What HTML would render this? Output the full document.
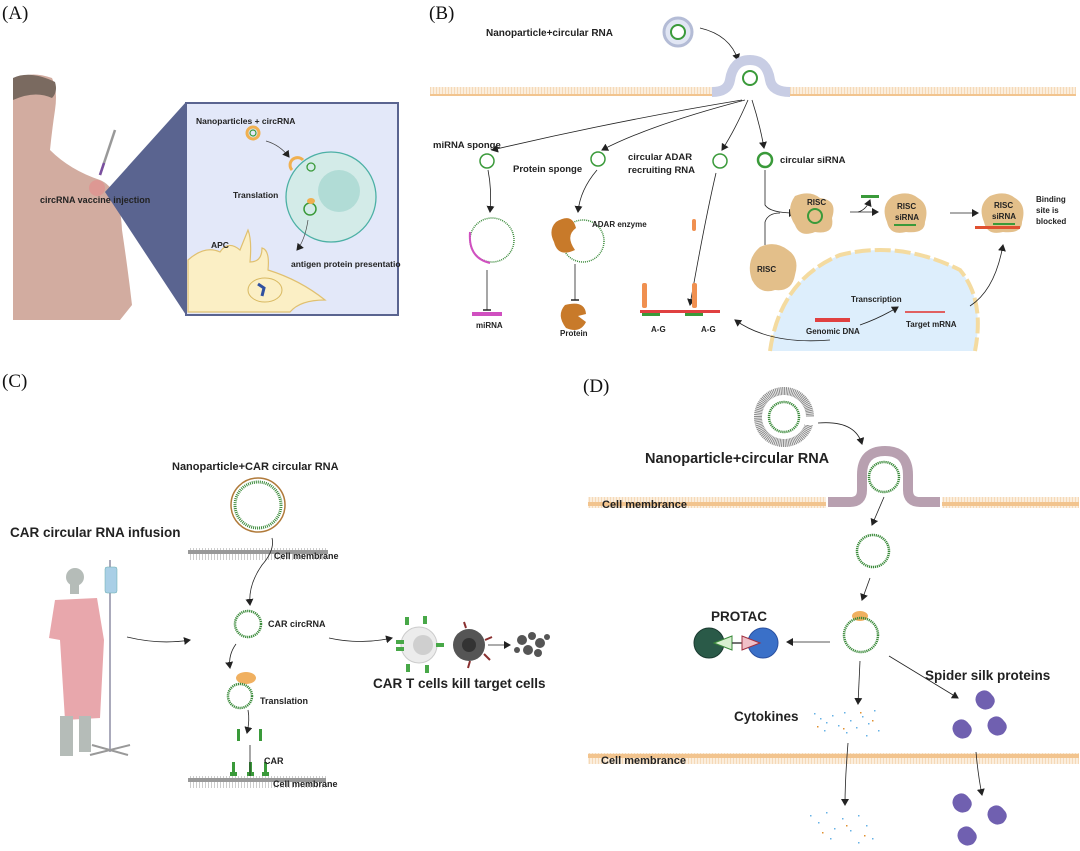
<!DOCTYPE html>
<html><head><meta charset="utf-8"><style>
html,body{margin:0;padding:0;background:#fff}
svg{display:block}
text{font-family:"Liberation Sans",sans-serif;font-weight:bold;fill:#222}
.ser{font-family:"Liberation Serif",serif;font-weight:normal;font-size:19px;fill:#111}
</style></head><body>
<svg width="1080" height="851" viewBox="0 0 1080 851" xmlns="http://www.w3.org/2000/svg">
<defs>
<marker id="ah" markerWidth="8" markerHeight="8" refX="6" refY="4" orient="auto" markerUnits="userSpaceOnUse"><path d="M0,0 L7,4 L0,8 z" fill="#222"/></marker>
<marker id="tb" markerWidth="8" markerHeight="8" refX="1" refY="4" orient="auto" markerUnits="userSpaceOnUse"><path d="M1,0 L1,8" stroke="#222" stroke-width="1.5"/></marker>
<pattern id="memO" width="3" height="12" patternUnits="userSpaceOnUse"><rect width="3" height="12" fill="#fbeedd"/><rect y="0" width="3" height="2" fill="#f2c48e"/><rect y="10" width="3" height="2" fill="#f2c48e"/><rect x="1" y="2" width="1" height="8" fill="#f5d9b8"/></pattern>
<pattern id="memG" width="3" height="12" patternUnits="userSpaceOnUse"><rect width="3" height="12" fill="#fff"/><rect width="3" height="2" fill="#999"/><rect y="10" width="3" height="2" fill="#999"/><rect x="1" y="2" width="1" height="8" fill="#ccc"/></pattern>
</defs>

<!-- ===== Panel A ===== -->
<text x="2" y="19" class="ser">(A)</text>
<path d="M13,80 Q30,70 52,78 Q58,90 55,110 Q52,130 50,150 Q70,170 100,180 Q120,188 122,230 Q128,270 132,305 L120,320 L13,320 Z" fill="#d2aca0"/>
<path d="M13,78 Q30,70 55,82 Q58,92 52,98 Q35,90 13,100 Z" fill="#7a6a60"/>
<circle cx="97" cy="188" r="8" fill="#e58a8a" opacity="0.6"/>
<line x1="100" y1="175" x2="115" y2="130" stroke="#999" stroke-width="2.5"/>
<line x1="100" y1="175" x2="104" y2="163" stroke="#7a4fa0" stroke-width="2.5"/>
<polygon points="105,192 186,102 186,315" fill="#5a6490"/>
<rect x="186" y="103" width="212" height="212" fill="#e3e8f9" stroke="#5a6490" stroke-width="2"/>
<text x="196" y="124" font-size="8.5">Nanoparticles + circRNA</text>
<circle cx="253" cy="133" r="6" fill="none" stroke="#f0b050" stroke-width="3"/>
<circle cx="253" cy="133" r="3" fill="none" stroke="#3a9a3a" stroke-width="1.2"/>
<path d="M266,141 Q280,145 289,157" fill="none" stroke="#444" stroke-width="0.7" marker-end="url(#ah)"/>
<circle cx="331" cy="197" r="45" fill="#d3ebe8" stroke="#4cb0a5" stroke-width="1.3"/>
<circle cx="339" cy="191" r="21" fill="#b1dcd6"/>
<path d="M292,170 A7,7 0 1 1 303,160" fill="none" stroke="#f0b050" stroke-width="3"/>
<circle cx="311" cy="167" r="4" fill="none" stroke="#3a9a3a" stroke-width="1.3"/>
<circle cx="310" cy="209" r="6" fill="none" stroke="#3a9a3a" stroke-width="1.5"/>
<ellipse cx="311" cy="201" rx="4" ry="3" fill="#f0b050"/>
<text x="233" y="198" font-size="8.5">Translation</text>
<path d="M308,220 Q305,240 297,250" fill="none" stroke="#444" stroke-width="0.7" marker-end="url(#ah)"/>
<path d="M188,260 Q205,245 220,252 Q228,240 240,250 L248,230 Q252,240 250,262 Q262,262 262,248 Q270,250 268,270 Q300,280 325,300 Q300,300 290,312 L188,312 Z" fill="#fbefc5" stroke="#e0c070" stroke-width="1.2"/>
<ellipse cx="265" cy="290" rx="17" ry="12" fill="none" stroke="#d8b860"/>
<path d="M258,284 L264,288 L262,296" stroke="#3050a0" stroke-width="3" fill="none"/>
<text x="211" y="248" font-size="8.5">APC</text>
<text x="291" y="267" font-size="8.5">antigen protein presentatio</text>
<text x="40" y="203" font-size="9">circRNA vaccine injection</text>

<!-- ===== Panel B ===== -->
<text x="429" y="19" class="ser">(B)</text>
<text x="486" y="36" font-size="10">Nanoparticle+circular RNA</text>
<circle cx="678" cy="32" r="14" fill="#e1e6f4" stroke="#b4bcd6" stroke-width="3"/>
<circle cx="678" cy="32" r="7" fill="#fff" stroke="#3a9a3a" stroke-width="2"/>
<path d="M700,28 Q730,35 738,60" fill="none" stroke="#222" stroke-width="0.8" marker-end="url(#ah)"/>
<rect x="430" y="87" width="282" height="9" fill="url(#memO)"/>
<rect x="790" y="87" width="286" height="9" fill="url(#memO)"/>
<path d="M712,92 Q728,92 730,80 Q733,60 750,60 Q767,60 770,80 Q772,92 790,92" fill="none" stroke="#c8cde4" stroke-width="10"/>
<circle cx="750" cy="78" r="7" fill="#fff" stroke="#3a9a3a" stroke-width="2"/>
<path d="M742,100 Q620,120 492,150" fill="none" stroke="#222" stroke-width="0.8" marker-end="url(#ah)"/>
<path d="M745,100 Q650,125 602,150" fill="none" stroke="#222" stroke-width="0.8" marker-end="url(#ah)"/>
<path d="M748,100 Q735,130 722,150" fill="none" stroke="#222" stroke-width="0.8" marker-end="url(#ah)"/>
<path d="M752,100 Q760,125 764,148" fill="none" stroke="#222" stroke-width="0.8" marker-end="url(#ah)"/>
<text x="433" y="148" font-size="9.5">miRNA sponge</text>
<circle cx="487" cy="161" r="7" fill="none" stroke="#3a9a3a" stroke-width="1.5"/>
<text x="513" y="172" font-size="9.5">Protein sponge</text>
<circle cx="598" cy="159" r="7" fill="none" stroke="#3a9a3a" stroke-width="1.5"/>
<text x="628" y="160" font-size="9.5">circular ADAR</text>
<text x="628" y="173" font-size="9.5">recruiting RNA</text>
<circle cx="720" cy="161" r="7" fill="none" stroke="#3a9a3a" stroke-width="1.5"/>
<circle cx="765" cy="160" r="7" fill="none" stroke="#3a9a3a" stroke-width="2.5"/>
<text x="780" y="163" font-size="9.5">circular siRNA</text>
<path d="M488,170 Q492,190 490,212" fill="none" stroke="#222" stroke-width="0.8" marker-end="url(#ah)"/>
<circle cx="492" cy="240" r="22" fill="none" stroke="#3a8a3a" stroke-width="1.5" stroke-dasharray="1 1"/>
<path d="M470,232 Q468,258 490,263" fill="none" stroke="#d050c0" stroke-width="2"/>
<line x1="487" y1="270" x2="487" y2="310" stroke="#222" stroke-width="0.8" marker-end="url(#tb)"/>
<rect x="472" y="312" width="30" height="4" fill="#d050c0"/>
<text x="476" y="328" font-size="8">miRNA</text>
<path d="M597,170 Q580,190 578,212" fill="none" stroke="#222" stroke-width="0.8" marker-end="url(#ah)"/>
<circle cx="583" cy="241" r="21" fill="none" stroke="#3a8a3a" stroke-width="1.5" stroke-dasharray="1 1"/>
<path d="M556,222 Q572,212 576,228 Q565,236 575,250 Q558,258 554,242 Q548,230 556,222 Z" fill="#c87a2a"/>
<line x1="575" y1="264" x2="575" y2="300" stroke="#222" stroke-width="0.8" marker-end="url(#tb)"/>
<path d="M565,305 Q585,300 586,314 L578,316 L586,322 Q580,334 566,328 Q556,315 565,305 Z" fill="#c87a2a"/>
<text x="560" y="336" font-size="8">Protein</text>
<text x="592" y="227" font-size="8">ADAR enzyme</text>
<rect x="692" y="219" width="4" height="12" rx="2" fill="#f09050"/>
<path d="M716,173 Q705,220 690,305" fill="none" stroke="#222" stroke-width="0.8" marker-end="url(#ah)"/>
<rect x="642" y="283" width="5" height="25" rx="2" fill="#f09050"/>
<rect x="692" y="283" width="5" height="25" rx="2" fill="#f09050"/>
<rect x="640" y="310" width="80" height="3" fill="#e04040"/>
<rect x="642" y="313" width="18" height="3" fill="#3a9a3a"/>
<rect x="685" y="313" width="18" height="3" fill="#3a9a3a"/>
<text x="651" y="332" font-size="8">A-G</text>
<text x="701" y="332" font-size="8">A-G</text>
<path d="M770,351 Q780,280 840,255 Q900,240 960,270 Q985,300 975,351 Z" fill="#ddeefc"/>
<path d="M770,351 Q780,280 840,255 Q900,240 960,270 Q985,300 975,351" fill="none" stroke="#f4dba0" stroke-width="4" stroke-dasharray="16 4"/>
<path d="M765,170 L765,205 Q770,213 795,213" fill="none" stroke="#222" stroke-width="0.8" marker-end="url(#ah)"/>
<path d="M765,245 L765,222 Q768,213 780,213" fill="none" stroke="#222" stroke-width="0.8"/>
<path d="M795,196 Q810,190 820,198 Q838,200 832,218 Q835,235 815,232 Q800,238 795,225 Q785,210 795,196 Z" fill="#e3bf8a"/>
<text x="807" y="205" font-size="8">RISC</text>
<circle cx="815" cy="216" r="7" fill="none" stroke="#3a9a3a" stroke-width="2"/>
<path d="M760,247 Q775,240 788,250 Q800,258 795,275 Q792,292 775,290 Q760,295 752,280 Q745,260 760,247 Z" fill="#e3bf8a"/>
<text x="757" y="272" font-size="8">RISC</text>
<path d="M850,212 L878,212" stroke="#222" stroke-width="0.8" marker-end="url(#ah)"/>
<path d="M858,212 Q866,210 870,200" fill="none" stroke="#222" stroke-width="0.8" marker-end="url(#ah)"/>
<rect x="861" y="195" width="18" height="3" fill="#3a9a3a"/>
<path d="M893,196 Q908,190 918,198 Q930,205 925,222 Q925,234 906,232 Q890,236 887,222 Q880,205 893,196 Z" fill="#e3bf8a"/>
<text x="897" y="209" font-size="8">RISC</text>
<text x="895" y="220" font-size="8">siRNA</text>
<rect x="894" y="224" width="22" height="2" fill="#3a9a3a"/>
<path d="M950,213 L978,213" stroke="#222" stroke-width="0.8" marker-end="url(#ah)"/>
<path d="M990,196 Q1005,190 1015,198 Q1027,205 1022,222 Q1022,234 1003,232 Q987,236 984,222 Q977,205 990,196 Z" fill="#e3bf8a"/>
<text x="994" y="208" font-size="8">RISC</text>
<text x="992" y="219" font-size="8">siRNA</text>
<rect x="993" y="223" width="22" height="2" fill="#3a9a3a"/>
<rect x="975" y="226" width="45" height="3" fill="#e05030"/>
<text x="1036" y="202" font-size="8">Binding</text>
<text x="1036" y="213" font-size="8">site is</text>
<text x="1036" y="224" font-size="8">blocked</text>
<path d="M970,306 Q995,290 1003,245" fill="none" stroke="#222" stroke-width="0.8" marker-end="url(#ah)"/>
<text x="851" y="302" font-size="8">Transcription</text>
<rect x="815" y="318" width="35" height="4" fill="#e04040"/>
<text x="806" y="334" font-size="8">Genomic DNA</text>
<rect x="905" y="311" width="40" height="2" fill="#e06060"/>
<text x="906" y="327" font-size="8">Target mRNA</text>
<path d="M860,325 Q880,318 898,307" fill="none" stroke="#222" stroke-width="0.8" marker-end="url(#ah)"/>
<path d="M830,340 Q770,345 735,320" fill="none" stroke="#222" stroke-width="0.8" marker-end="url(#ah)"/>

<!-- ===== Panel C ===== -->
<text x="2" y="387" class="ser">(C)</text>
<text x="172" y="470" font-size="11">Nanoparticle+CAR circular RNA</text>
<circle cx="258" cy="505" r="27" fill="#fff" stroke="#b07a3a" stroke-width="1.5"/>
<circle cx="258" cy="505" r="23" fill="none" stroke="#3a8a3a" stroke-width="3" stroke-dasharray="1 1"/>
<text x="10" y="537" font-size="13.5">CAR circular RNA infusion</text>
<rect x="188" y="548" width="140" height="12" fill="url(#memG)"/>
<text x="274" y="559" font-size="9">Cell membrane</text>
<path d="M272,538 Q275,550 262,565 Q248,585 250,605" fill="none" stroke="#222" stroke-width="0.8" marker-end="url(#ah)"/>
<circle cx="75" cy="577" r="9" fill="#b5bcb8"/>
<rect x="70" y="584" width="9" height="10" fill="#b5bcb8"/>
<path d="M55,600 L97,598 L104,640 L100,718 L65,720 L60,640 L49,638 Z" fill="#e8a7ac"/>
<rect x="60" y="716" width="13" height="40" fill="#b5bcb8"/>
<rect x="79" y="716" width="12" height="36" fill="#b5bcb8"/>
<line x1="110" y1="560" x2="110" y2="752" stroke="#aab" stroke-width="2"/>
<rect x="105" y="567" width="12" height="26" rx="2" fill="#a9cfe6" stroke="#6aa" stroke-width="0.5"/>
<path d="M90,755 L130,745 M92,745 L128,755" stroke="#999" stroke-width="2"/>
<path d="M127,637 Q160,645 190,640" fill="none" stroke="#222" stroke-width="0.8" marker-end="url(#ah)"/>
<circle cx="248" cy="624" r="13" fill="none" stroke="#3a8a3a" stroke-width="2.5" stroke-dasharray="1.2 0.8"/>
<text x="268" y="627" font-size="9">CAR circRNA</text>
<path d="M329,638 Q360,645 392,638" fill="none" stroke="#222" stroke-width="0.8" marker-end="url(#ah)"/>
<circle cx="419" cy="645" r="18" fill="#ececec" stroke="#ccc"/>
<circle cx="423" cy="645" r="10" fill="#cfcfcf"/>
<g fill="#48a848"><rect x="396" y="640" width="8" height="4"/><rect x="396" y="647" width="8" height="4"/><rect x="405" y="617" width="4" height="8"/><rect x="423" y="616" width="4" height="8"/><rect x="406" y="664" width="4" height="8"/><rect x="425" y="665" width="4" height="8"/><rect x="436" y="643" width="8" height="4"/></g>
<circle cx="469" cy="645" r="16" fill="#555"/>
<circle cx="469" cy="645" r="7" fill="#333"/>
<g stroke="#8a3030" stroke-width="2"><line x1="466" y1="628" x2="464" y2="622"/><line x1="485" y1="640" x2="492" y2="637"/><line x1="470" y1="661" x2="468" y2="668"/><line x1="484" y1="654" x2="490" y2="660"/></g>
<line x1="488" y1="645" x2="510" y2="645" stroke="#222" stroke-width="0.8" marker-end="url(#ah)"/>
<g fill="#555"><circle cx="522" cy="640" r="5"/><circle cx="532" cy="636" r="4"/><circle cx="540" cy="643" r="5"/><circle cx="528" cy="650" r="5"/><circle cx="538" cy="653" r="4"/><circle cx="547" cy="637" r="3"/><circle cx="517" cy="650" r="3"/></g>
<text x="373" y="688" font-size="13.5">CAR T cells kill target cells</text>
<path d="M236,644 Q228,655 230,668" fill="none" stroke="#222" stroke-width="0.8" marker-end="url(#ah)"/>
<ellipse cx="246" cy="678" rx="10" ry="6" fill="#f0b060"/>
<circle cx="240" cy="696" r="12" fill="none" stroke="#3a8a3a" stroke-width="2.5" stroke-dasharray="1.2 0.8"/>
<text x="260" y="704" font-size="9">Translation</text>
<path d="M248,710 Q250,720 247,733" fill="none" stroke="#222" stroke-width="0.8" marker-end="url(#ah)"/>
<g fill="#3a9a3a"><rect x="237" y="729" width="3" height="12"/><rect x="259" y="729" width="3" height="12"/><rect x="232" y="762" width="3" height="10"/><rect x="249" y="762" width="3" height="10"/><rect x="264" y="762" width="3" height="10"/><rect x="230" y="772" width="7" height="4"/><rect x="247" y="772" width="7" height="4"/><rect x="262" y="772" width="7" height="4"/></g>
<text x="264" y="764" font-size="9">CAR</text>
<line x1="250" y1="745" x2="250" y2="783" stroke="#222" stroke-width="0.8" marker-end="url(#ah)"/>
<rect x="188" y="776" width="138" height="12" fill="url(#memG)"/>
<text x="273" y="787" font-size="9">Cell membrane</text>

<!-- ===== Panel D ===== -->
<text x="583" y="392" class="ser">(D)</text>
<circle cx="784" cy="417" r="26" fill="none" stroke="#8a8a8a" stroke-width="8" stroke-dasharray="1 0.7"/>
<circle cx="784" cy="417" r="19" fill="#fff"/>
<circle cx="784" cy="417" r="15" fill="none" stroke="#3a8a3a" stroke-width="2.5" stroke-dasharray="1.2 0.8"/>
<rect x="805" y="417" width="10" height="8" fill="#fff"/>
<path d="M818,423 Q855,420 862,444" fill="none" stroke="#222" stroke-width="0.8" marker-end="url(#ah)"/>
<text x="645" y="463" font-size="14.5">Nanoparticle+circular RNA</text>
<rect x="588" y="497" width="238" height="11" fill="url(#memO)"/>
<rect x="942" y="497" width="137" height="11" fill="url(#memO)"/>
<path d="M828,502 L850,502 Q862,502 862,490 L862,475 Q862,451 885,451 Q908,451 908,475 L908,490 Q908,502 920,502 L940,502" fill="none" stroke="#b8a0b0" stroke-width="10"/>
<circle cx="884" cy="477" r="15" fill="#fff" stroke="#3a8a3a" stroke-width="2.5" stroke-dasharray="1.2 0.8"/>
<text x="602" y="508" font-size="11">Cell membrance</text>
<line x1="884" y1="497" x2="872" y2="525" stroke="#222" stroke-width="0.8" marker-end="url(#ah)"/>
<circle cx="873" cy="551" r="16" fill="none" stroke="#3a8a3a" stroke-width="2.5" stroke-dasharray="1.2 0.8"/>
<line x1="870" y1="578" x2="862" y2="600" stroke="#222" stroke-width="0.8" marker-end="url(#ah)"/>
<ellipse cx="860" cy="616" rx="8" ry="5" fill="#f0b060"/>
<circle cx="861" cy="635" r="17" fill="none" stroke="#3a8a3a" stroke-width="2.5" stroke-dasharray="1.2 0.8"/>
<text x="711" y="621" font-size="13.5">PROTAC</text>
<circle cx="709" cy="643" r="15" fill="#2a5a48" stroke="#1a3a30"/>
<circle cx="763" cy="643" r="15" fill="#3a70c8" stroke="#2a50a0"/>
<polygon points="714,643 732,636 732,650" fill="#d8f0d0" stroke="#3a8a3a"/>
<line x1="732" y1="643" x2="742" y2="643" stroke="#444" stroke-width="1.5"/>
<polygon points="760,643 742,636 742,650" fill="#f0c0c8" stroke="#a03040"/>
<line x1="830" y1="642" x2="787" y2="642" stroke="#222" stroke-width="0.8" marker-end="url(#ah)"/>
<line x1="860" y1="661" x2="858" y2="704" stroke="#222" stroke-width="0.8" marker-end="url(#ah)"/>
<line x1="889" y1="656" x2="958" y2="698" stroke="#222" stroke-width="0.8" marker-end="url(#ah)"/>
<text x="925" y="680" font-size="13.5">Spider silk proteins</text>
<text x="734" y="721" font-size="13.5">Cytokines</text>
<g fill="#40a0e0" opacity="0.8">
<rect x="814" y="713" width="1.5" height="1.5"/><rect x="820" y="718" width="1.5" height="1.5"/><rect x="826" y="722" width="1.5" height="1.5"/><rect x="832" y="715" width="1.5" height="1.5"/><rect x="838" y="725" width="1.5" height="1.5"/><rect x="844" y="712" width="1.5" height="1.5"/><rect x="850" y="720" width="1.5" height="1.5"/><rect x="856" y="727" width="1.5" height="1.5"/><rect x="862" y="716" width="1.5" height="1.5"/><rect x="868" y="723" width="1.5" height="1.5"/><rect x="874" y="710" width="1.5" height="1.5"/><rect x="878" y="730" width="1.5" height="1.5"/><rect x="824" y="730" width="1.5" height="1.5"/><rect x="846" y="732" width="1.5" height="1.5"/><rect x="866" y="735" width="1.5" height="1.5"/>
<rect x="810" y="815" width="1.5" height="1.5"/><rect x="818" y="822" width="1.5" height="1.5"/><rect x="826" y="812" width="1.5" height="1.5"/><rect x="834" y="828" width="1.5" height="1.5"/><rect x="842" y="818" width="1.5" height="1.5"/><rect x="850" y="830" width="1.5" height="1.5"/><rect x="858" y="815" width="1.5" height="1.5"/><rect x="866" y="825" width="1.5" height="1.5"/><rect x="872" y="838" width="1.5" height="1.5"/><rect x="830" y="838" width="1.5" height="1.5"/><rect x="858" y="842" width="1.5" height="1.5"/></g>
<g fill="#e09030"><rect x="817" y="726" width="1.5" height="1.5"/><rect x="843" y="728" width="1.5" height="1.5"/><rect x="860" y="712" width="1.5" height="1.5"/><rect x="872" y="720" width="1.5" height="1.5"/><rect x="822" y="832" width="1.5" height="1.5"/><rect x="846" y="825" width="1.5" height="1.5"/><rect x="864" y="835" width="1.5" height="1.5"/></g>
<g fill="#7060b0">
<path d="M978,693 q8,-6 14,2 q6,6 -1,13 q-7,4 -13,-2 q-5,-7 0,-13z"/>
<path d="M955,722 q8,-6 14,2 q6,6 -1,13 q-7,4 -13,-2 q-5,-7 0,-13z"/>
<path d="M990,719 q8,-6 14,2 q6,6 -1,13 q-7,4 -13,-2 q-5,-7 0,-13z"/>
<path d="M955,796 q8,-6 14,2 q6,6 -1,13 q-7,4 -13,-2 q-5,-7 0,-13z"/>
<path d="M990,808 q8,-6 14,2 q6,6 -1,13 q-7,4 -13,-2 q-5,-7 0,-13z"/>
<path d="M960,829 q8,-6 14,2 q6,6 -1,13 q-7,4 -13,-2 q-5,-7 0,-13z"/>
</g>
<rect x="588" y="753" width="491" height="11" fill="url(#memO)"/>
<text x="601" y="764" font-size="11">Cell membrance</text>
<path d="M848,743 Q845,780 845,805" fill="none" stroke="#222" stroke-width="0.8" marker-end="url(#ah)"/>
<path d="M976,752 Q978,775 982,795" fill="none" stroke="#222" stroke-width="0.8" marker-end="url(#ah)"/>
</svg>
</body></html>
